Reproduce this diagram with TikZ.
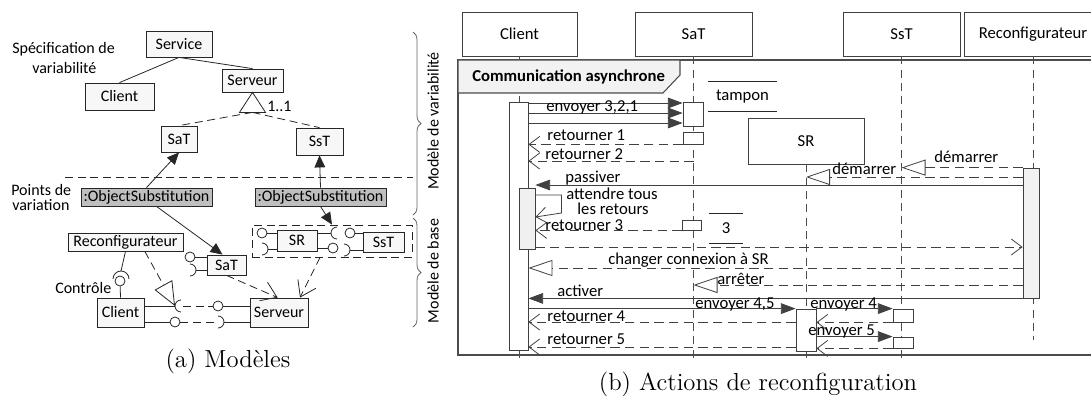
\documentclass[tikz,border=0pt]{standalone}
\usepackage{fontspec}
\newfontfamily\dfont{Carlito}
\newfontfamily\capfont{lmroman12-regular.otf}
\usetikzlibrary{arrows.meta,decorations.pathreplacing}

\tikzset{
  ln/.style={draw=black!85, line width=0.6pt},
  dsh/.style={ln, dash pattern=on 6pt off 3.5pt},
  box/.style={ln, fill=gray!6},
  os/.style={ln, fill=gray!50, minimum width=98.25pt, minimum height=13.5pt},
  ball/.style={ln, circle, fill=white, minimum size=7.5pt},
  tri/.style={ln, -{Triangle[length=9pt,width=8pt]}},
  dep/.style={dsh, -{Straight Barb[length=11pt,width=15pt]}},
  gen/.style={dsh, -{Triangle[open,length=18pt,width=15pt]}},
  brc/.style={draw=black!60, line width=0.6pt, decorate, decoration={brace, amplitude=6pt}},
  capt/.style={font=\capfont\fontsize{18.5}{22}\selectfont},
  hd/.style={draw=black!75, line width=0.6pt, fill=white, minimum height=33pt},
  bar/.style={draw=black!75, line width=0.6pt, fill=white},
  life/.style={draw=black!70, line width=0.6pt, dash pattern=on 6pt off 4pt},
  frm/.style={draw=black!70, line width=0.8pt},
  msg/.style={draw=black!75, line width=0.6pt, -{Triangle[length=11pt,width=8pt]}},
  self/.style={draw=black!75, line width=0.6pt, -{Straight Barb[length=8pt,width=12pt]}},
  ret/.style={draw=black!75, line width=0.6pt, dash pattern=on 7pt off 4pt, -{Straight Barb[length=8pt,width=12pt]}},
  sig/.style={draw=black!75, line width=0.6pt, dash pattern=on 7pt off 4pt, -{Triangle[open,length=18pt,width=12pt]}},
  ml/.style={anchor=base west}
}

\begin{document}
\begin{tikzpicture}[x=0.75pt,y=-0.75pt,
  every node/.style={font=\dfont\fontsize{12}{14}\selectfont, inner sep=0pt}]
\useasboundingbox (0,0) rectangle (1091,403);
\clip (0,0) rectangle (1091,403);

% (a) Modeles
\node[ml] (sp1) at (12,54) {Spécification de};
\node[ml] (sp2) at (32,74) {variabilité};
\node[box, minimum width=49.5pt, minimum height=19.5pt] (Sv) at (179,44) {Service};
\node[box, minimum width=51.75pt, minimum height=20.25pt] (Cl) at (119.5,96.5) {Client};
\node[box, minimum width=45.75pt, minimum height=17.25pt] (Sr) at (252.5,80.5) {Serveur};
\node[box, minimum width=27pt, minimum height=19.5pt] (Sa) at (179,139) {SaT};
\node[box, minimum width=35.25pt, minimum height=20.25pt] (Ss) at (319.5,141.5) {SsT};
\draw[ln] (Sv.south) -- (Cl.north);
\draw[ln] (Sv.south) -- (Sr.north);
\draw[ln, fill=white] (Sr.south) -- ++(-13,20) -- ++(26,0) -- cycle;
\coordinate (g) at ([yshift=-15pt]Sr.south);
\node[ml] (mul) at (267,111) {1..1};
\draw[dsh] (g) -- (Sa.north);
\draw[dsh] (g) -- (Ss.north);

\draw[dsh] (65,177) -- (413,177);
\node[ml] (pv1) at (11,195) {Points de};
\node[ml] (pv2) at (12,210) {variation};
\node[os] (O1) at (146.5,197) {:ObjectSubstitution};
\node[os] (O2) at (320.5,197) {:ObjectSubstitution};
\draw[tri] (O1.north) -- (Sa.south);
\draw[tri] (O2.north) -- (Ss.south);

\node[box, minimum width=86.25pt, minimum height=13.5pt] (Rc) at (125.5,242) {Reconfigurateur};
\node[box, minimum width=29.25pt, minimum height=15pt] (Sb) at (226.5,265) {SaT};
\node[box, minimum width=35.25pt, minimum height=21.75pt] (Cb) at (120.5,312.5) {Client};
\node[box, minimum width=43.5pt, minimum height=21.75pt] (Vb) at (279,312.5) {Serveur};
\node[dsh, minimum width=120pt, minimum height=24pt] (Db) at (332,241) {};
\node[box, minimum width=30pt, minimum height=15.75pt] (Rb) at (297,240.5) {SR};
\node[box, minimum width=30.75pt, minimum height=15pt] (Tb) at (383.5,242) {SsT};
\draw[tri] ([xshift=7.5pt]O1.south) -- ([xshift=-3pt]Sb.north);
\draw[tri] (O2.south) -- (Db.north);

\node[ball] (b1) at (190,257) {};
\draw[ln] (b1) -- (Sb.west |- b1);
\draw[ln] (Sb.west |- 0,270) -- (196,270);
\draw[ln] ([yshift=4.5pt]190,270) arc[start angle=90, end angle=-90, radius=4.5pt];
\node[ball] (b2) at (262,233) {};
\draw[ln] (b2) -- (Rb.west |- b2);
\draw[ln] (Rb.west |- 0,249) -- (268,249);
\draw[ln] ([yshift=4.5pt]262,249) arc[start angle=90, end angle=-90, radius=4.5pt];
\draw[ln] (Rb.east |- 0,233) -- (331,233);
\draw[ln] ([yshift=4.5pt]337,233) arc[start angle=90, end angle=270, radius=4.5pt];
\node[ball] (b3) at (333,248) {};
\draw[ln] (Rb.east |- b3) -- (b3);
\node[ball] (b4) at (350,233) {};
\draw[ln] (b4) -- (Tb.west |- b4);
\draw[ln] (Tb.west |- 0,250) -- (350,250);
\draw[ln] ([yshift=4.5pt]344,250) arc[start angle=90, end angle=-90, radius=4.5pt];

\draw[ln] (Rc.south) -- (121,271);
\draw[ln] ([xshift=-6pt]121,279) arc[start angle=180, end angle=0, radius=6pt];
\node[ball] (b5) at (120,281) {};
\draw[ln] (b5) -- (Cb.north);
\node[ml] (ctl) at (55,293) {Contrôle};

\draw[ln] (Cb.east |- 0,306) -- (175,306);
\draw[ln] ([yshift=4.5pt]181,306) arc[start angle=90, end angle=270, radius=4.5pt];
\coordinate (gt) at (175,306);
\node[ball] (b6) at (218,306) {};
\draw[dsh] (183,306) -- (b6);
\draw[ln] (b6) -- (Vb.west |- b6);
\node[ball] (b7) at (175,322) {};
\draw[ln] (Cb.east |- b7) -- (b7);
\draw[dsh] (b7) -- (214,322);
\draw[ln] ([yshift=4.5pt]218,322) arc[start angle=90, end angle=-90, radius=4.5pt];
\draw[ln] (224,322) -- (Vb.west |- 0,322);

\draw[gen] ([xshift=14.5pt]Rc.south) -- (gt);
\draw[dep] (Sb.south) -- ([xshift=-1pt]Vb.north);
\draw[dep] ([xshift=-9pt]Db.south) -- ([xshift=15.75pt]Vb.north);

\draw[brc] (413,32) -- (413,215);
\draw[brc] (413,218) -- (413,327);
\node[rotate=90] (mv) at (433,121) {Modèle de variabilité};
\node[rotate=90] (mb) at (433,271) {Modèle de base};
\node[capt] (ca) at (228,361) {(a) Modèles};

% (b) Actions de reconfiguration
\begin{scope}[every node/.append style={font=\dfont\fontsize{12.5}{14}\selectfont}]
\node[hd, minimum width=86.25pt] (hC) at (519.5,34) {Client};
\node[hd, minimum width=87.75pt] (hS) at (693.5,34) {SaT};
\node[hd, minimum width=87.75pt] (hT) at (901.5,34) {SsT};
\node[hd, minimum width=103.5pt] (hR) at (1033,34) {Reconfigurateur};
\node[hd, minimum width=87pt, minimum height=34.5pt] (hSR) at (806,141) {SR};

\draw[life] (hC.south) -- (hC.south |- 0,358);
\draw[life] (hS.south) -- (hS.south |- 0,358);
\draw[life] (hSR.south) -- (hSR.south |- 0,358);
\draw[life] (hT.south) -- (hT.south |- 0,358);
\draw[life] (hR.south) -- (hR.south |- 0,340);

\draw[frm] (458,60) rectangle (1100,355);
\draw[frm, fill=gray!10] (458,60) -- (680,60) -- (680,75) -- (663,93) -- (458,93) -- cycle;
\node[ml, font=\dfont\bfseries\fontsize{12.5}{14}\selectfont] (frt) at (472,82) {Communication asynchrone};

\node[bar, minimum width=14.25pt, minimum height=186pt] (CB) at (518.5,226) {};
\node[bar, fill=gray!12, minimum width=12pt, minimum height=45.75pt] (CB2) at (527,218.5) {};
\node[bar, minimum width=15pt, minimum height=18pt] (S1) at (693,114) {};
\node[bar, minimum width=15pt, minimum height=9pt] (S2) at (693,138) {};
\node[bar, minimum width=14.25pt, minimum height=7.5pt] (S3) at (691.5,225) {};
\node[bar, fill=gray!10, minimum width=12pt, minimum height=97.5pt] (RB) at (1031,233) {};
\node[bar, minimum width=15pt, minimum height=31.5pt] (SRB) at (806,330) {};
\node[bar, minimum width=15pt, minimum height=9.75pt] (T1) at (903,315.5) {};
\node[bar, minimum width=15pt, minimum height=8.25pt] (T2) at (903,342.5) {};

\node[minimum width=51.75pt, minimum height=21.75pt] (tp) at (742.5,96.5) {tampon};
\draw[ln] (tp.north west) -- (tp.north east) (tp.south west) -- (tp.south east);
\node[minimum width=25.5pt, minimum height=21.75pt] (d3) at (726,228.5) {3};
\draw[ln] (d3.north west) -- (d3.north east) (d3.south west) -- (d3.south east);

\draw[msg] (CB.east |- 0,103) -- (S1.west |- 0,103);
\draw[msg] (CB.east |- 0,113) -- (S1.west |- 0,113) node[ml] at (546,111) {envoyer 3,2,1};
\draw[msg] (CB.east |- 0,123) -- (S1.west |- 0,123);
\draw[ret] (S2.south west) -- (CB.east |- S2.south west) node[ml] at (547,140) {retourner 1};
\draw[ret] (hS.south |- 0,161) -- (CB.east |- 0,161) node[ml] at (545,159) {retourner 2};
\draw[sig] (RB.north west) -- (hT.south |- RB.north west) node[ml] at (934,162) {démarrer};
\draw[sig] (RB.west |- 0,177) -- (hSR.south |- 0,177) node[ml] at (832,174) {démarrer};
\draw[msg] (RB.west |- 0,185) -- (CB2.east |- 0,185) node[ml] at (565,182) {passiver};
\draw[self] (CB2.east |- 0,195) -- ++(26,0) -- ++(0,18) -- (CB2.east |- 0,217)
  node[ml] at (566,199) {attendre tous} node[ml] at (577,214) {les retours};
\draw[ret] (S3.south west) -- (CB2.east |- S3.south west) node[ml] at (545,230) {retourner 3};
\draw[ret] (CB2.east |- 0,247) -- (RB.west |- 0,247);
\draw[sig] (RB.west |- 0,268) -- (CB.east |- 0,268) node[ml] at (608,264) {changer connexion à SR};
\draw[sig] (RB.west |- 0,285) -- (hS.south |- 0,285) node[ml] at (717,284) {arrêter};
\draw[msg] (RB.south west) -- (CB.east |- RB.south west) node[ml] at (557,296) {activer};
\draw[msg] (CB.east |- SRB.north west) -- (SRB.north west) node[ml] at (695,308) {envoyer 4,5};
\draw[msg] (SRB.north east) -- (T1.north west) node[ml] at (810,308) {envoyer 4};
\draw[ret] (T1.south west) -- (SRB.east |- T1.south west);
\draw[ret] (SRB.west |- 0,322) -- (CB.east |- 0,322) node[ml] at (547,321) {retourner 4};
\draw[msg] (SRB.east |- T2.north) -- (T2.north west) node[ml] at (808,335) {envoyer 5};
\draw[ret] (T2.south west) -- (SRB.east |- T2.south west);
\draw[ret] (SRB.west |- 0,347) -- (CB.east |- 0,347) node[ml] at (547,344) {retourner 5};
\end{scope}
\node[capt] (cb) at (758,384) {(b) Actions de reconfiguration};
\end{tikzpicture}
\end{document}
